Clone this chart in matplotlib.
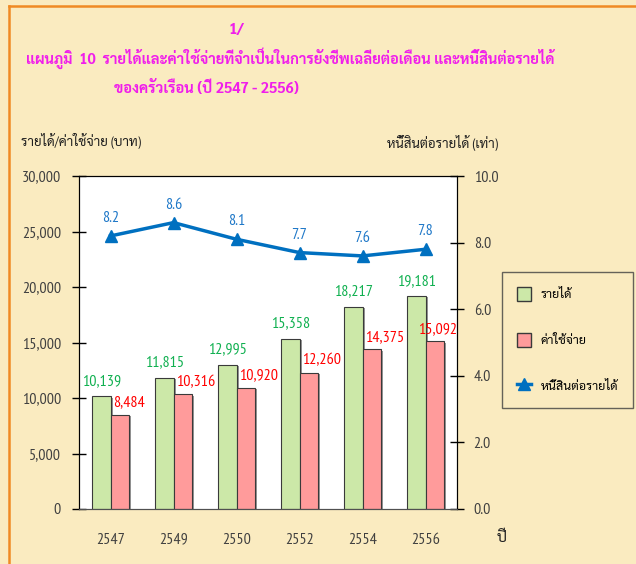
import numpy as np
import matplotlib
matplotlib.use("Agg")
import matplotlib.pyplot as plt
from matplotlib.patches import Patch
from matplotlib.lines import Line2D
import matplotlib.patheffects as pe
from matplotlib.ticker import FuncFormatter, MultipleLocator

# data
years = ["2547", "2549", "2550", "2552", "2554", "2556"]
income = [10139, 11815, 12995, 15358, 18217, 19181]
expense = [8484, 10316, 10920, 12260, 14375, 15092]
debt_ratio = [8.2, 8.6, 8.1, 7.7, 7.6, 7.8]

# narrow latin digits, Thai falls back to Sarabun
plt.rcParams["font.family"] = ["PT Sans Narrow", "Sarabun", "DejaVu Sans"]
title_font = ["Sarabun", "DejaVu Sans"]

bg = "#FAEBC0"
green = "#CCE8A8"
red = "#FF9B9B"
blue = "#0070C0"

fig = plt.figure(figsize=(6.36, 5.64), dpi=100, facecolor=bg)
ax = fig.add_axes([79 / 636, 1 - 509 / 564, 378 / 636, 333 / 564])
ax.set_facecolor("white")

x = np.arange(len(years))
w = 0.29
shadow = [pe.SimplePatchShadow(offset=(1.5, -1), shadow_rgbFace="#8a8a8a", alpha=0.9), pe.Normal()]
ax.bar(x - w / 2, income, w, color=green, edgecolor="#3a3a3a", linewidth=0.8,
       path_effects=shadow, zorder=2)
ax.bar(x + w / 2, expense, w, color=red, edgecolor="#3a3a3a", linewidth=0.8,
       path_effects=shadow, zorder=2)

ax.set_xlim(-0.5, 5.5)
ax.set_ylim(0, 30000)
ax.yaxis.set_major_locator(MultipleLocator(5000))
ax.yaxis.set_major_formatter(FuncFormatter(lambda v, p: f"{v:,.0f}"))
ax.tick_params(axis="y", direction="inout", length=10, width=1, pad=8,
               labelsize=11.5, labelcolor="#404040")
ax.set_xticks(x)
ax.set_xticklabels(years)
ax.tick_params(axis="x", length=0, pad=17, labelsize=11.5, labelcolor="#404040")

# value labels on bars
for i in range(len(years)):
    ax.annotate(f"{income[i]:,}", (x[i] - w / 2, income[i]), xytext=(0, 11), textcoords="offset points",
                ha="center", va="center", color="#10B050", fontsize=11.5)
    if i < len(years) - 1:
        ax.annotate(f"{expense[i]:,}", (x[i] + 0.04, expense[i]), xytext=(0, 9),
                    textcoords="offset points", ha="left", va="center", color="#FF0000", fontsize=11.5)
    else:
        ax.annotate(f"{expense[i]:,}", (5.5, expense[i]), xytext=(0, 9),
                    textcoords="offset points", ha="right", va="center", color="#FF0000", fontsize=11.5)

# debt to income line
ax2 = ax.twinx()
ax2.set_ylim(0, 10)
ax2.yaxis.set_major_locator(MultipleLocator(2))
ax2.yaxis.set_major_formatter(FuncFormatter(lambda v, p: f"{v:.1f}"))
ax2.tick_params(axis="y", direction="inout", length=10, width=1, pad=7,
                labelsize=11.5, labelcolor="#404040")
ax2.plot(x, debt_ratio, color=blue, linewidth=2.5, marker="^", markersize=9)
for i in range(len(years)):
    ax2.annotate(f"{debt_ratio[i]:.1f}", (x[i], debt_ratio[i]), xytext=(0, 13),
                 textcoords="offset points", ha="center", va="center", color="#1F78C8", fontsize=11.5)

for s in ["left", "top", "right"]:
    ax.spines[s].set_color("black")
    ax2.spines[s].set_color("black")
ax.spines["bottom"].set_color("#505050")
ax2.spines["bottom"].set_color("#505050")

# titles and axis names
pink = "#F01EEB"
fig.text(236 / 636, 1 - 30 / 564, "1/", color=pink, fontsize=11, fontweight="bold",
         ha="center", va="center", family=title_font)
fig.text(26 / 636, 1 - 58 / 564,
         "แผนภูมิ  10  รายได้และค่าใช้จ่ายที่จำเป็นในการยังชีพเฉลี่ยต่อเดือน และหนี้สินต่อรายได้",
         color=pink, fontsize=10.6, fontweight="bold", ha="left", va="center", family=title_font)
fig.text(114 / 636, 1 - 88 / 564, "ของครัวเรือน (ปี 2547 - 2556)",
         color=pink, fontsize=10.6, fontweight="bold", ha="left", va="center", family=title_font)
fig.text(21 / 636, 1 - 141 / 564, "รายได้/ค่าใช้จ่าย (บาท)", color="#202020", fontsize=9.6, ha="left", va="center")
fig.text(387 / 636, 1 - 143 / 564, "หนี้สินต่อรายได้ (เท่า)", color="#202020", fontsize=9.6, ha="left", va="center")
fig.text(502 / 636, 1 - 538 / 564, "ปี", color="#202020", fontsize=11, ha="center", va="center")

# legend
handles = [Patch(facecolor=green, edgecolor="#3a3a3a"),
           Patch(facecolor=red, edgecolor="#3a3a3a"),
           Line2D([], [], color=blue, linewidth=2.5, marker="^", markersize=8)]
fig.legend(handles, ["รายได้", "ค่าใช้จ่าย", "หนี้สินต่อรายได้"], loc="upper left",
           bbox_to_anchor=(502 / 636, 1 - 272 / 564), borderaxespad=0,
           frameon=True, fancybox=False, edgecolor="#404040", facecolor="none",
           labelspacing=2.55, borderpad=1.2, handlelength=1.1, handleheight=1.3,
           handletextpad=0.8, fontsize=9)

# orange frame
fig.add_artist(Line2D([9 / 636, 1], [1 - 6 / 564, 1 - 6 / 564], color="#F08A24", linewidth=1.8))
fig.add_artist(Line2D([9 / 636, 9 / 636], [0, 1 - 6 / 564], color="#F08A24", linewidth=1.8))

fig.savefig("out.png", dpi=100, facecolor=bg)
